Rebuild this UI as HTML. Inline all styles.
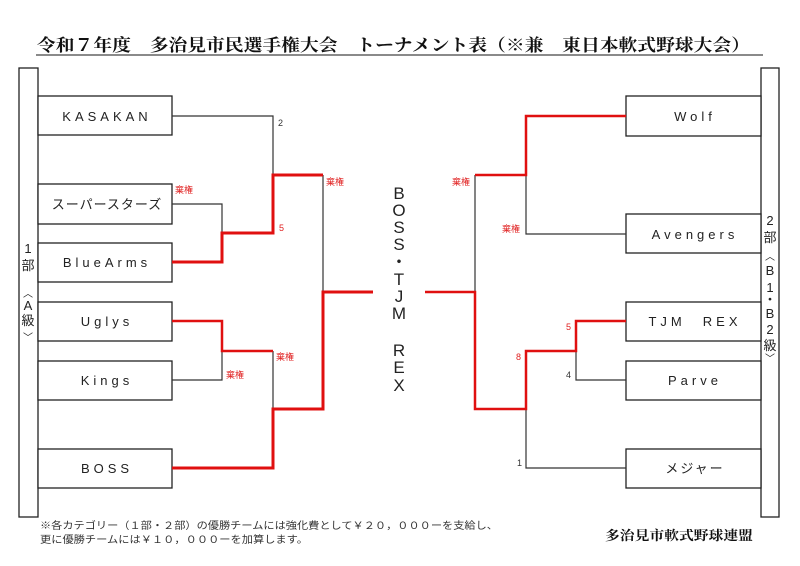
<!DOCTYPE html>
<html><head><meta charset="utf-8"><style>
html,body{margin:0;padding:0;background:#fff;}
svg{display:block;}
.t{font-family:"Liberation Sans","Noto Sans CJK JP",sans-serif;font-size:13px;fill:#222;}
.r{font-family:"Liberation Sans","Noto Sans CJK JP",sans-serif;font-size:9px;fill:#e02020;}
.k{font-family:"Liberation Sans","Noto Sans CJK JP",sans-serif;font-size:9px;fill:#333;}
.v{font-family:"Liberation Sans","Noto Sans CJK JP",sans-serif;font-size:13px;fill:#222;}
</style></head><body>
<svg width="800" height="566" viewBox="0 0 800 566" xmlns="http://www.w3.org/2000/svg">
<rect width="800" height="566" fill="#fff"/>
<text x="37" y="51" textLength="713" lengthAdjust="spacingAndGlyphs" style="font-family:'Liberation Serif','Noto Serif CJK SC',serif;font-size:17px;font-weight:bold;fill:#111">令和７年度　多治見市民選手権大会　トーナメント表（※兼　東日本軟式野球大会）</text>
<line x1="36" y1="55" x2="763" y2="55" stroke="#444" stroke-width="1.2"/>
<g fill="#fff" stroke="#222" stroke-width="1.3">
<rect x="19" y="68" width="19" height="449"/>
<rect x="761" y="68" width="18" height="449"/>
<rect x="38" y="96" width="134" height="39"/>
<rect x="38" y="184" width="134" height="40"/>
<rect x="38" y="243" width="134" height="39"/>
<rect x="38" y="302" width="134" height="39"/>
<rect x="38" y="361" width="134" height="39"/>
<rect x="38" y="449" width="134" height="39"/>
<rect x="626" y="96" width="135" height="40"/>
<rect x="626" y="214" width="135" height="39"/>
<rect x="626" y="302" width="135" height="39"/>
<rect x="626" y="361" width="135" height="39"/>
<rect x="626" y="449" width="135" height="39"/>
</g>
<g text-anchor="middle" class="t" style="letter-spacing:4px">
<text x="107" y="121">KASAKAN</text>
<text x="107" y="209" style="letter-spacing:1px">スーパースターズ</text>
<text x="107" y="267">BlueArms</text>
<text x="107" y="326">Uglys</text>
<text x="107" y="385">Kings</text>
<text x="107" y="473">BOSS</text>
<text x="695" y="121">Wolf</text>
<text x="695" y="239">Avengers</text>
<text x="695" y="326">TJM　REX</text>
<text x="695" y="385">Parve</text>
<text x="695" y="473" style="letter-spacing:2px">メジャー</text>
</g>
<g fill="none" stroke="#333" stroke-width="1.2">
<polyline points="172,116 273,116 273,175"/>
<polyline points="172,204 222,204 222,233"/>
<polyline points="323,175 323,292"/>
<polyline points="172,380 222,380 222,351"/>
<polyline points="273,351 273,409"/>
<polyline points="475,175 475,292"/>
<polyline points="626,234 526,234 526,175"/>
<polyline points="626,380 576,380 576,351"/>
<polyline points="526,409 526,468 626,468"/>
</g>
<g fill="none" stroke="#e01010" stroke-width="2.5">
<polyline points="172,262 222,262 222,233 273,233 273,175 323,175" stroke-width="3"/>
<polyline points="172,321 222,321 222,351 273,351"/>
<polyline points="172,468 273,468 273,409 323,409 323,292 373,292" stroke-width="3"/>
<polyline points="626,116 526,116 526,175 475,175"/>
<polyline points="425,292 475,292 475,409 526,409 526,351 576,351 576,321 626,321"/>
</g>
<text class="k" x="278" y="126">2</text>
<text class="r" x="175" y="193">棄権</text>
<text class="r" x="279" y="231">5</text>
<text class="r" x="326" y="185">棄権</text>
<text class="r" x="226" y="378">棄権</text>
<text class="r" x="276" y="360">棄権</text>
<text class="r" x="452" y="185">棄権</text>
<text class="r" x="502" y="232">棄権</text>
<text class="r" x="566" y="330">5</text>
<text class="r" x="516" y="360">8</text>
<text class="k" x="566" y="378">4</text>
<text class="k" x="517" y="466">1</text>
<g text-anchor="middle" style="font-family:'Liberation Sans','Noto Sans CJK JP',sans-serif;font-size:17px;fill:#222">
<text x="399" y="199">B</text><text x="399" y="216">O</text><text x="399" y="233">S</text><text x="399" y="250">S</text>
<text x="399" y="268">・</text><text x="399" y="285">T</text><text x="399" y="302">J</text><text x="399" y="319">M</text>
<text x="399" y="356">R</text><text x="399" y="373">E</text><text x="399" y="391">X</text>
</g>
<g text-anchor="middle" class="v">
<text x="28" y="253">1</text><text x="28" y="270">部</text><text x="28" y="297" style="font-size:10px">︿</text>
<text x="28" y="310">A</text><text x="28" y="325">級</text><text x="28" y="341" style="font-size:10px">﹀</text>
<text x="770" y="225">2</text><text x="770" y="242">部</text><text x="770" y="260" style="font-size:10px">︿</text>
<text x="770" y="275">B</text><text x="770" y="292">1</text><text x="770" y="304">・</text>
<text x="770" y="318">B</text><text x="770" y="334">2</text><text x="770" y="350">級</text><text x="770" y="362" style="font-size:10px">﹀</text>
</g>
<text x="40" y="529" textLength="458" lengthAdjust="spacingAndGlyphs" style="font-family:'Liberation Sans','Noto Sans CJK JP',sans-serif;font-size:10px;fill:#333">※各カテゴリー（１部・２部）の優勝チームには強化費として￥２０，０００ーを支給し、</text>
<text x="40" y="543" textLength="268" lengthAdjust="spacingAndGlyphs" style="font-family:'Liberation Sans','Noto Sans CJK JP',sans-serif;font-size:10px;fill:#333">更に優勝チームには￥１０，０００ーを加算します。</text>
<text x="605" y="540" textLength="148" lengthAdjust="spacingAndGlyphs" style="font-family:'Liberation Serif','Noto Serif CJK SC',serif;font-size:13px;font-weight:bold;fill:#111">多治見市軟式野球連盟</text>
</svg>
</body></html>
